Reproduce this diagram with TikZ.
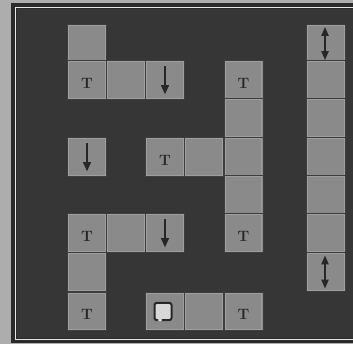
\documentclass[tikz,border=0pt]{standalone}
\usetikzlibrary{arrows.meta}
\definecolor{outergray}{HTML}{ADADAD}
\definecolor{framedark}{HTML}{2A2A2A}
\definecolor{boarddark}{HTML}{363636}
\definecolor{frameline}{HTML}{E6E6E6}
\definecolor{cellgray}{HTML}{8A8A8A}
\definecolor{cellrim}{HTML}{9E9E9E}
\definecolor{cellline}{HTML}{3E3E3E}
\definecolor{glyph}{HTML}{272727}
\definecolor{boxface}{HTML}{D8D8D8}
\begin{document}
\begin{tikzpicture}[x=1pt,y=-1pt,
  cell/.style={minimum width=39pt, minimum height=38.5pt, inner sep=0pt,
    fill=cellgray, draw=cellline, line width=0.8pt,
    path picture={\draw[cellrim, line width=1pt]
      ([shift={(1.2pt,-1.2pt)}]path picture bounding box.north west) rectangle
      ([shift={(-1.2pt,1.2pt)}]path picture bounding box.south east);}},
  tee/.style={text=glyph, font=\bfseries\fontsize{15}{15}\selectfont, inner sep=0pt},
  downarr/.style={draw=glyph, line width=2.4pt, -{Triangle[width=7.5pt,length=9.5pt]}},
  botharr/.style={draw=glyph, line width=2pt,
    {Triangle[width=7pt,length=9pt]}-{Triangle[width=7pt,length=9pt]}},
  boxicon/.style={draw=glyph, line width=2pt, fill=boxface, rounded corners=2pt,
    minimum size=17pt, inner sep=0pt}]
\useasboundingbox (0,0) rectangle (353,344);
% surround and board
\fill[outergray] (0,0) rectangle (353,344);
\fill[framedark] (11,3) rectangle (353,343);
\fill[boarddark] (17,9) rectangle (353,338);
\draw[frameline, line width=1.6pt] (353,7.5) -- (15.5,7.5) -- (15.5,339.5) -- (353,339.5);

% column 0
\node[cell] (a0) at (87,43.5) {};
\node[cell] (a1) at (87,80) {};
\node[cell] (a3) at (87,157) {};
\node[cell] (a5) at (87,233) {};
\node[cell] (a6) at (87,272) {};
\node[cell] (a7) at (87,311.5) {};
% column 1
\node[cell] (b1) at (126,80) {};
\node[cell] (b5) at (126,233) {};
% column 2
\node[cell] (c1) at (165,80) {};
\node[cell] (c3) at (165,157) {};
\node[cell] (c5) at (165,233) {};
\node[cell] (c7) at (165,311.5) {};
% column 3
\node[cell] (d3) at (204,157) {};
\node[cell] (d7) at (204,311.5) {};
% column 4
\node[cell] (e1) at (243.5,80) {};
\node[cell] (e2) at (243.5,118) {};
\node[cell] (e3) at (243.5,157) {};
\node[cell] (e4) at (243.5,195) {};
\node[cell] (e5) at (243.5,233) {};
\node[cell] (e7) at (243.5,311.5) {};
% right column
\node[cell] (f0) at (326,43.5) {};
\node[cell] (f1) at (326,80) {};
\node[cell] (f2) at (326,118) {};
\node[cell] (f3) at (326,157) {};
\node[cell] (f4) at (326,195) {};
\node[cell] (f5) at (326,233) {};
\node[cell] (f6) at (326,272) {};

% T markers
\foreach \c in {a1,a5,a7,c3,e1,e5,e7}
  \node[tee] (t-\c) at ([yshift=-3pt]\c.center) {T};

% down arrows
\foreach \c in {a3,c1,c5}
  \draw[downarr] ([yshift=-6pt]\c.north) -- ([yshift=5pt]\c.south);

% double arrows
\foreach \c in {f0,f6}
  \draw[botharr] ([xshift=-1pt,yshift=-3pt]\c.north) -- ([xshift=-1pt,yshift=3pt]\c.south);

% box icon
\node[boxicon] (box) at ([xshift=-2pt]c7.center) {};
\fill[boxface] ([xshift=-3pt,yshift=1pt]box.south) ellipse (2pt and 1.5pt);
\end{tikzpicture}
\end{document}
